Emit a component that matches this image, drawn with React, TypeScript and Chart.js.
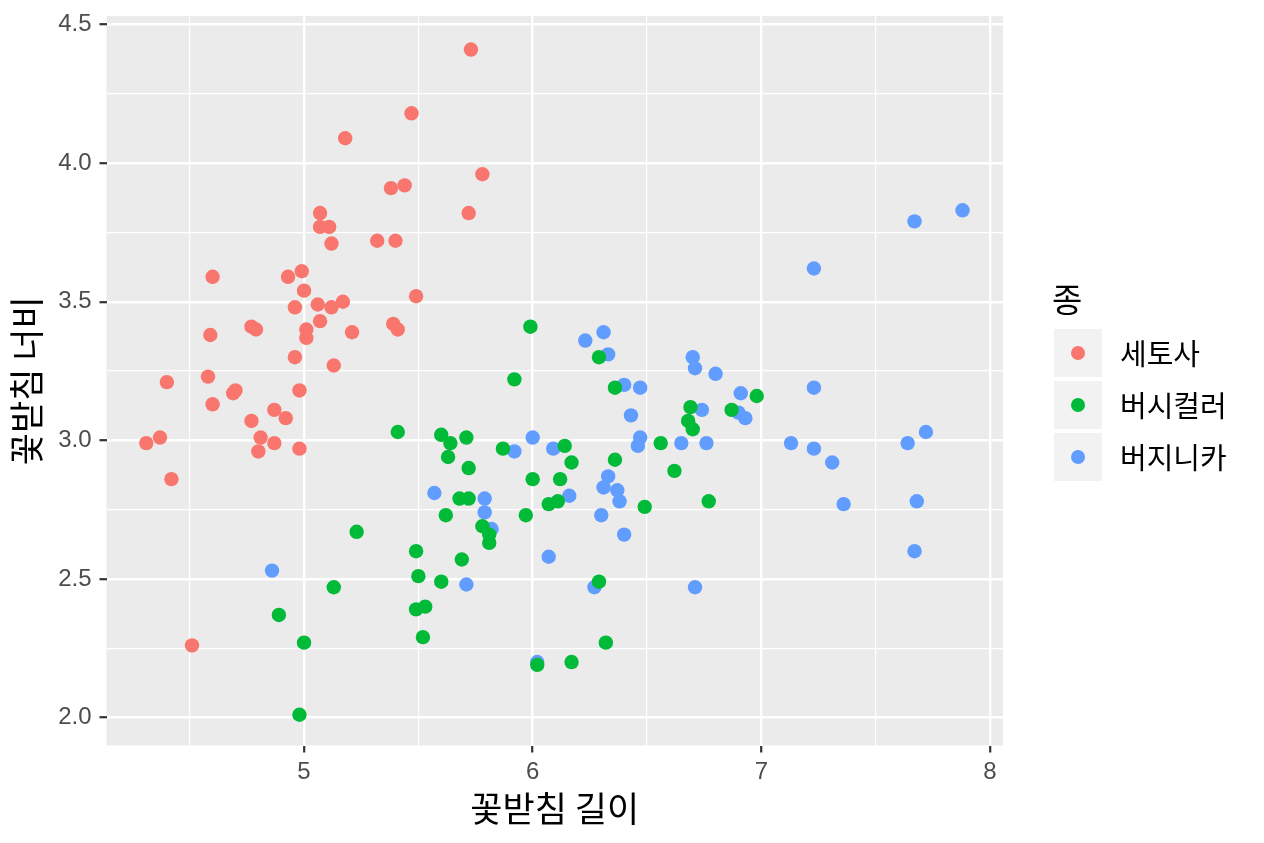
import React, { useEffect, useRef } from "react";
import { Chart, registerables } from "chart.js";

Chart.register(...registerables);

const speciesNames = ["세토사", "버시컬러", "버지니카"];
const speciesColors = ["#F8766D", "#00BA38", "#619CFF"];

const setosaX = [5.73,5.18,5.47,5.78,5.72,5.44,5.38,5.07,5.07,5.11,5.12,5.32,5.40,4.60,4.93,4.99,5.00,5.49,5.06,5.17,4.96,5.12,5.07,5.01,5.01,5.21,5.39,5.41,4.77,4.79,4.59,4.96,5.13,4.58,4.40,4.70,4.69,4.98,4.60,4.77,4.92,4.87,4.81,4.37,4.31,4.80,4.87,4.98,4.42,4.51];
const setosaY = [4.41,4.09,4.18,3.96,3.82,3.92,3.91,3.82,3.77,3.77,3.71,3.72,3.72,3.59,3.59,3.61,3.54,3.52,3.49,3.50,3.48,3.48,3.43,3.40,3.37,3.39,3.42,3.40,3.41,3.40,3.38,3.30,3.27,3.23,3.21,3.18,3.17,3.18,3.13,3.07,3.08,3.11,3.01,3.01,2.99,2.96,2.99,2.97,2.86,2.26];

const versicolorX = [5.41,5.99,5.92,6.29,6.36,5.60,5.64,5.71,5.63,5.72,5.87,6.00,6.14,6.17,6.36,5.68,5.72,5.62,5.97,6.07,6.11,6.12,5.78,5.81,5.81,5.23,5.49,5.69,5.50,5.60,5.13,6.29,5.49,5.53,4.89,5.52,5.00,6.32,6.17,6.02,4.98,6.49,6.56,6.62,6.69,6.68,6.70,6.87,6.98,6.77];
const versicolorY = [3.03,3.41,3.22,3.30,3.19,3.02,2.99,3.01,2.94,2.90,2.97,2.86,2.98,2.92,2.93,2.79,2.79,2.73,2.73,2.77,2.78,2.86,2.69,2.66,2.63,2.67,2.60,2.57,2.51,2.49,2.47,2.49,2.39,2.40,2.37,2.29,2.27,2.27,2.20,2.19,2.01,2.76,2.99,2.89,3.12,3.07,3.04,3.11,3.16,2.78];

const virginicaX = [7.67,7.88,7.23,6.31,6.23,6.33,6.70,6.71,6.80,6.40,6.47,7.23,6.91,6.74,6.90,6.93,6.43,7.72,6.47,6.46,6.65,6.76,7.13,7.23,7.64,7.31,6.00,6.09,5.92,6.33,6.31,6.37,6.38,6.16,5.57,5.79,5.79,6.30,5.82,6.40,7.36,7.68,6.07,5.71,6.27,6.71,7.67,4.86,6.02];
const virginicaY = [3.79,3.83,3.62,3.39,3.36,3.31,3.30,3.26,3.24,3.20,3.19,3.19,3.17,3.11,3.10,3.08,3.09,3.03,3.01,2.98,2.99,2.99,2.99,2.97,2.99,2.92,3.01,2.97,2.96,2.87,2.83,2.82,2.78,2.80,2.81,2.79,2.74,2.73,2.68,2.66,2.77,2.78,2.58,2.48,2.47,2.47,2.60,2.53,2.20];

const xGridValues = [4.5, 5, 5.5, 6, 6.5, 7, 7.5, 8];
const xTickLabels = [5, 6, 7, 8];
const yGridValues = [2.0, 2.25, 2.5, 2.75, 3.0, 3.25, 3.5, 3.75, 4.0, 4.25, 4.5];
const yTickLabels = [2.0, 2.5, 3.0, 3.5, 4.0, 4.5];

const xTitle = "꽃받침 길이";
const yTitle = "꽃받침 너비";
const legendTitle = "종";

const W = 1264;
const H = 843;
const KR = "'Noto Sans CJK KR', 'Noto Sans', sans-serif";
const NUM = "'Liberation Sans', 'Noto Sans', sans-serif";

const isMajor = (v: number, list: number[]) => list.some((m) => Math.abs(m - v) < 1e-6);

const panelBg = {
  id: "panelBg",
  beforeDraw(chart: any) {
    const { ctx, chartArea } = chart;
    ctx.save();
    ctx.fillStyle = "#EBEBEB";
    ctx.fillRect(chartArea.left, chartArea.top, chartArea.right - chartArea.left, chartArea.bottom - chartArea.top);
    ctx.restore();
  },
};

const ggLegend = {
  id: "ggLegend",
  afterDraw(chart: any) {
    const { ctx, chartArea } = chart;
    const x0 = chartArea.right + 51;
    const keySize = 48;
    const keyGap = 4;
    const firstKeyTop = 329;
    ctx.save();
    ctx.fillStyle = "#000000";
    ctx.textAlign = "left";
    ctx.textBaseline = "middle";
    ctx.font = `33px ${KR}`;
    ctx.fillText(legendTitle, x0 - 2, 299);
    chart.data.datasets.forEach((ds: any, i: number) => {
      const top = firstKeyTop + i * (keySize + keyGap);
      ctx.fillStyle = "#F2F2F2";
      ctx.fillRect(x0, top, keySize, keySize);
      ctx.beginPath();
      ctx.fillStyle = ds.backgroundColor;
      ctx.arc(x0 + keySize / 2, top + keySize / 2, 7, 0, Math.PI * 2);
      ctx.fill();
      ctx.fillStyle = "#000000";
      ctx.font = `29px ${KR}`;
      ctx.fillText(ds.label, x0 + 66, top + keySize / 2 + 1);
    });
    ctx.restore();
  },
};

function toPoints(xs: number[], ys: number[]) {
  return xs.map((x, i) => ({ x, y: ys[i] }));
}

export default function App() {
  const ref = useRef<HTMLCanvasElement | null>(null);

  useEffect(() => {
    if (!ref.current) return;
    const series = [
      toPoints(setosaX, setosaY),
      toPoints(versicolorX, versicolorY),
      toPoints(virginicaX, virginicaY),
    ];
    const chart = new Chart(ref.current, {
      type: "scatter",
      data: {
        datasets: series.map((data, i) => ({
          label: speciesNames[i],
          data,
          backgroundColor: speciesColors[i],
          borderWidth: 0,
          pointRadius: 7.2,
          pointHoverRadius: 7.2,
        })),
      },
      options: {
        animation: false,
        responsive: false,
        devicePixelRatio: 1,
        events: [],
        layout: { padding: { left: 0, right: W - 1003, top: 16, bottom: 0 } },
        plugins: {
          legend: { display: false },
          tooltip: { enabled: false },
        },
        scales: {
          x: {
            type: "linear",
            min: 4.136,
            max: 8.057,
            afterBuildTicks: (scale: any) => {
              scale.ticks = xGridValues.map((v) => ({ value: v }));
            },
            afterFit: (scale: any) => {
              scale.height = H - 745.5;
              scale.paddingLeft = 0;
              scale.paddingRight = 0;
              scale.paddingTop = 0;
              scale.paddingBottom = 0;
            },
            border: { display: false },
            grid: {
              color: "#FFFFFF",
              lineWidth: (c: any) => (isMajor(c.tick?.value, xTickLabels) ? 2.4 : 1.2),
              drawTicks: true,
              tickLength: 7,
              tickWidth: 2.2,
              tickColor: (c: any) => (isMajor(c.tick?.value, xTickLabels) ? "#333333" : "rgba(0,0,0,0)"),
            },
            ticks: {
              autoSkip: false,
              maxRotation: 0,
              padding: 5,
              color: "#4D4D4D",
              font: { family: NUM, size: 24 },
              callback: (v: any) => (isMajor(Number(v), xTickLabels) ? String(v) : ""),
            },
            title: {
              display: true,
              text: xTitle,
              color: "#000000",
              font: { family: KR, size: 35 },
              padding: { top: 0, bottom: 13 },
            },
          },
          y: {
            type: "linear",
            min: 1.899,
            max: 4.531,
            afterBuildTicks: (scale: any) => {
              scale.ticks = yGridValues.map((v) => ({ value: v }));
            },
            afterFit: (scale: any) => {
              scale.width = 106.5;
              scale.paddingLeft = 0;
              scale.paddingRight = 0;
              scale.paddingTop = 0;
              scale.paddingBottom = 0;
            },
            border: { display: false },
            grid: {
              color: "#FFFFFF",
              lineWidth: (c: any) => (isMajor(c.tick?.value, yTickLabels) ? 2.4 : 1.2),
              drawTicks: true,
              tickLength: 7,
              tickWidth: 2.2,
              tickColor: (c: any) => (isMajor(c.tick?.value, yTickLabels) ? "#333333" : "rgba(0,0,0,0)"),
            },
            ticks: {
              autoSkip: false,
              padding: 8,
              color: "#4D4D4D",
              font: { family: NUM, size: 24 },
              callback: (v: any) => (isMajor(Number(v), yTickLabels) ? Number(v).toFixed(1) : ""),
            },
            title: {
              display: true,
              text: yTitle,
              color: "#000000",
              font: { family: KR, size: 35 },
              padding: { top: 6, bottom: 0 },
            },
          },
        },
      },
      plugins: [panelBg, ggLegend],
    } as any);
    return () => chart.destroy();
  }, []);

  return (
    <div style={{ position: "absolute", left: 0, top: 0, width: W, height: H, background: "#FFFFFF" }}>
      <canvas ref={ref} width={W} height={H} style={{ width: W, height: H, display: "block" }} />
    </div>
  );
}
